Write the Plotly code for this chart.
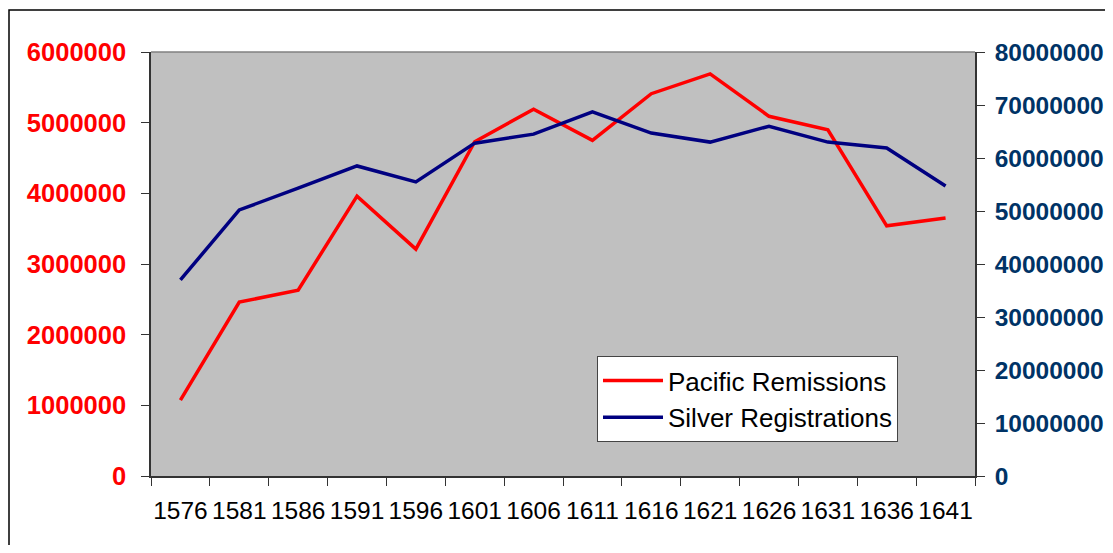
import plotly.graph_objects as go

years = ['1576', '1581', '1586', '1591', '1596', '1601', '1606', '1611',
         '1616', '1621', '1626', '1631', '1636', '1641']
pacific_remissions = [1075000, 2460000, 2630000, 3960000, 3210000, 4730000, 5190000,
                      4750000, 5410000, 5690000, 5090000, 4900000, 3540000, 3650000]
silver_registrations = [37000000, 50200000, 54300000, 58500000, 55500000, 62800000, 64500000,
                        68700000, 64700000, 63000000, 66000000, 63000000, 61900000, 54700000]

# page body has an 8px margin, so the figure is kept inside the viewport
W, H = 1097, 537
L, R, T, B = 143, 130, 44, 69
pw, ph = W - L - R, H - T - B

font = "Arial, Liberation Sans, sans-serif"

fig = go.Figure()
fig.add_trace(go.Scatter(x=years, y=pacific_remissions, mode='lines',
                         name='Pacific Remissions',
                         line=dict(color='#FF0000', width=3.5)))
fig.add_trace(go.Scatter(x=years, y=silver_registrations, mode='lines',
                         name='Silver Registrations', yaxis='y2',
                         line=dict(color='#000080', width=3.5)))

# outer chart border (runs off the right and bottom edges)
fig.add_shape(type='rect', xref='paper', yref='paper', layer='below',
              x0=(1 - L) / pw, x1=1.3, y0=-0.5, y1=(T + ph - 2) / ph,
              line=dict(color='#000000', width=1.5), fillcolor='rgba(0,0,0,0)')
# grey top edge of plot area
fig.add_shape(type='line', xref='paper', yref='paper', x0=0, x1=1, y0=1, y1=1,
              line=dict(color='#808080', width=1.5))

fig.update_layout(
    width=W, height=H,
    margin=dict(l=L, r=R, t=T, b=B, autoexpand=False),
    paper_bgcolor='white',
    plot_bgcolor='#C0C0C0',
    font=dict(family=font, color='black'),
    showlegend=True,
    legend=dict(x=(589 - L) / pw, y=(T + ph - 348) / ph, xanchor='left', yanchor='top',
                bgcolor='white', bordercolor='#444444', borderwidth=1,
                font=dict(size=26, family=font, color='black'),
                itemwidth=60, tracegroupgap=0),
    xaxis=dict(type='category', range=[-0.5, 13.5], tickson='boundaries',
               ticks='outside', ticklen=8, automargin=False, tickangle=0,
               tickcolor='#333333', showline=True, linecolor='#333333', linewidth=1.5,
               showgrid=False, tickfont=dict(size=24.5, family=font, color='black'),
               ticklabelstandoff=12),
    yaxis=dict(range=[0, 6000000], dtick=1000000, tickformat='d', automargin=False,
               ticks='outside', ticklen=8, tickcolor='#333333',
               showline=True, linecolor='#333333', linewidth=1.5,
               showgrid=False, zeroline=False,
               tickfont=dict(size=25.5, family=font, color='#FF0000', weight='bold'),
               ticklabelstandoff=10),
    yaxis2=dict(range=[0, 80000000], dtick=10000000, tickformat='d', overlaying='y',
                side='right', ticks='outside', ticklen=8, tickcolor='#333333',
                showline=True, linecolor='#333333', linewidth=1.5, automargin=False,
                showgrid=False, zeroline=False,
                tickfont=dict(size=24.5, family=font, color='#003366', weight='bold'),
                ticklabelstandoff=5),
)

fig.write_html("out.html")
